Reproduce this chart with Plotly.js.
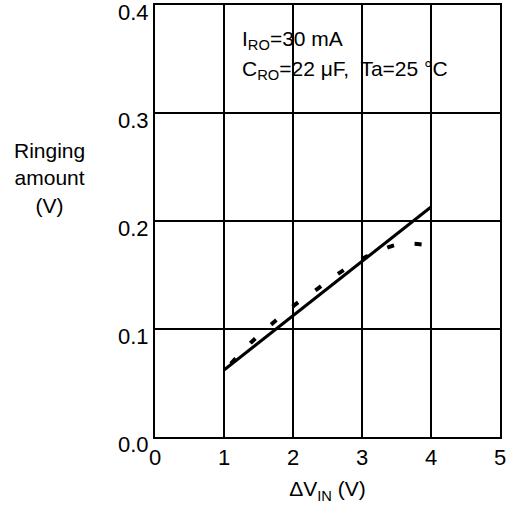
<!DOCTYPE html>
<html>
<head>
<meta charset="utf-8">
<script src="https://cdn.plot.ly/plotly-3.0.1.min.js"></script>
<style>html,body{margin:0;padding:0;background:#fff;}</style>
</head>
<body>
<div id="chart" style="width:509px;height:508px;"></div>
<script>
var solidX = [1, 4];
var solidY = [0.062, 0.213];
var dashedX = [1.1, 1.4, 1.7, 2.0, 2.35, 2.65, 3.0, 3.2, 3.5, 3.75, 4.0];
var dashedY = [0.068, 0.088, 0.105, 0.121, 0.137, 0.151, 0.165, 0.171, 0.178, 0.179, 0.177];
var xTicks = [0, 1, 2, 3, 4, 5];
var yTicks = [0.0, 0.1, 0.2, 0.3, 0.4];
var yTickText = ['0.0', '0.1', '0.2', '0.3', '0.4'];

var FONT = 'Liberation Sans, Arial, sans-serif';

var traces = [
  {x: solidX, y: solidY, mode: 'lines', line: {color: '#000', width: 3}, hoverinfo: 'skip'},
  {x: dashedX, y: dashedY, mode: 'lines', line: {color: '#000', width: 4, dash: '7px,21px', shape: 'spline'}, hoverinfo: 'skip'}
];

var layout = {
  width: 509, height: 508,
  margin: {l: 155, r: 9, t: 5, b: 71},
  paper_bgcolor: '#fff', plot_bgcolor: '#fff',
  showlegend: false,
  font: {family: FONT, size: 21, color: '#000'},
  xaxis: {
    range: [0, 5], tickvals: xTicks, ticks: '', showgrid: true, gridcolor: '#000', gridwidth: 1.5,
    zeroline: false, showline: true, mirror: true, linecolor: '#000', linewidth: 2,
    title: {text: 'ΔV<sub>IN</sub> (V)', font: {size: 21}, standoff: 12},
    tickfont: {size: 22}, ticklabeloverflow: 'allow',
    fixedrange: true
  },
  yaxis: {
    range: [0, 0.4], tickvals: yTicks, ticktext: yTickText, ticks: '', showgrid: true, gridcolor: '#000', gridwidth: 1.5,
    zeroline: false, showline: true, mirror: true, linecolor: '#000', linewidth: 2,
    tickfont: {size: 22}, ticklabeloverflow: 'allow', ticklabelshift: 7,
    fixedrange: true
  },
  shapes: [
    {type: 'rect', xref: 'paper', yref: 'paper', x0: 0.223, x1: 0.971, y0: 0.81, y1: 0.972,
     fillcolor: '#fff', line: {width: 0}, layer: 'between'}
  ],
  annotations: [
    {xref: 'paper', yref: 'paper', x: 0.246, y: 0.92, xanchor: 'left', yanchor: 'middle', showarrow: false,
     text: 'I<sub>RO</sub>=30 mA', font: {size: 21}},
    {xref: 'paper', yref: 'paper', x: 0.246, y: 0.85, xanchor: 'left', yanchor: 'middle', showarrow: false,
     text: 'C<sub>RO</sub>=22 μF,\u00a0 Ta=25 °C', font: {size: 21}},
    {xref: 'paper', yref: 'paper', x: -0.305, y: 0.60, xanchor: 'center', yanchor: 'middle', showarrow: false,
     text: 'Ringing<br>amount<br>(V)', font: {size: 21}, align: 'center'}
  ]
};

Plotly.newPlot('chart', traces, layout, {displayModeBar: false, staticPlot: true});
</script>
</body>
</html>
